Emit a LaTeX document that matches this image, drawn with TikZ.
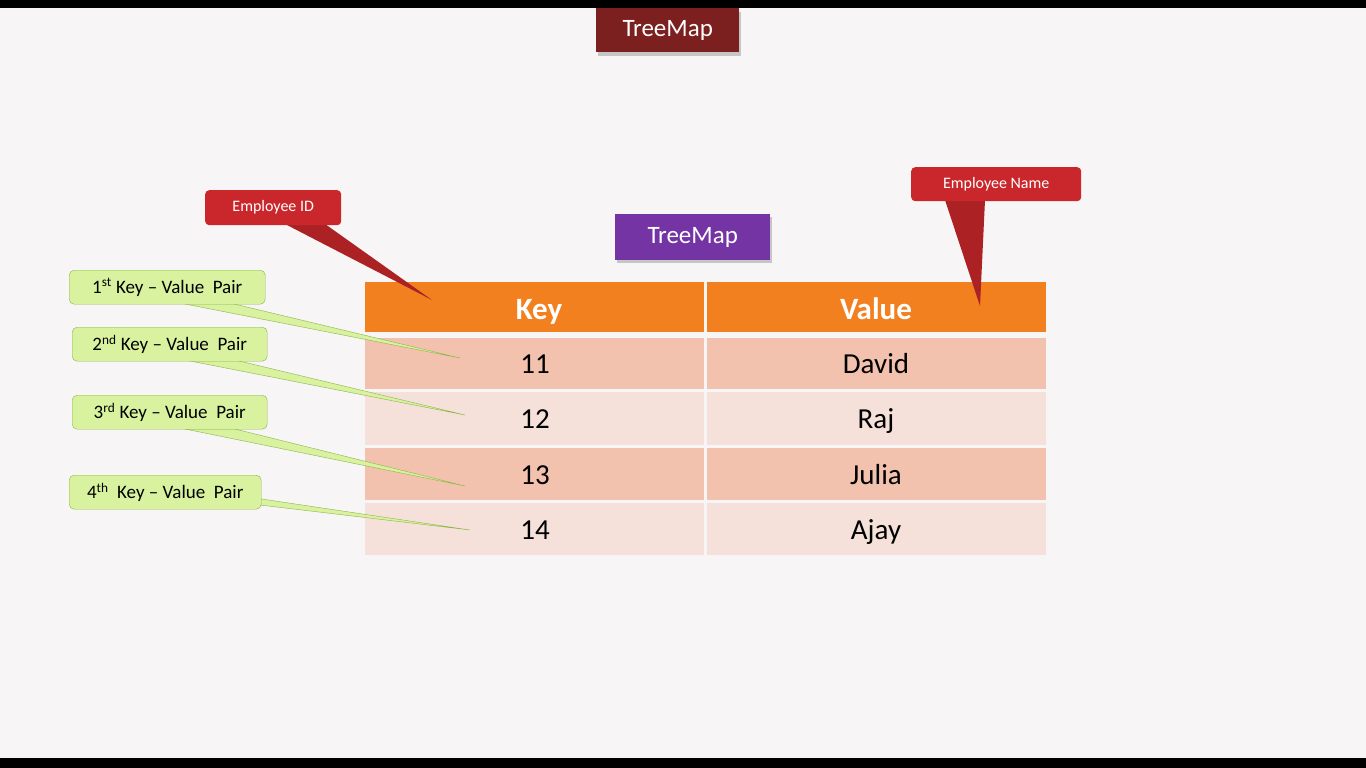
\documentclass[tikz,border=0pt]{standalone}
\usepackage{fontspec}
\setmainfont{Carlito}
\definecolor{bg}{HTML}{F7F5F5}
\definecolor{dred}{HTML}{7C1F1F}
\definecolor{cred}{HTML}{C9272B}
\definecolor{purp}{HTML}{7434A4}
\definecolor{orh}{HTML}{F3801F}
\definecolor{rodd}{HTML}{F3C2AE}
\definecolor{reven}{HTML}{F6E1DA}
\definecolor{gfill}{HTML}{D8F2A0}
\definecolor{gline}{HTML}{8DB348}
\begin{document}
\begin{tikzpicture}[x=1pt,y=-1pt,
  redbox/.style={rounded corners=4pt,fill=cred,text=white,font=\fontsize{16}{18}\selectfont},
  greenbox/.style={rounded corners=5pt,fill=gfill,draw=gline,text=black,font=\fontsize{19}{21}\selectfont},
  gtail/.style={fill=gfill,draw=gline}]
\fill[black] (0,0) rectangle (1366,768);
\fill[bg] (0,8) rectangle (1366,758);
\useasboundingbox (0,0) rectangle (1366,768);
% top box
\fill[gray!45] (598,12) rectangle (741,56);
\node[fill=dred,text=white,minimum width=143pt,minimum height=44pt,inner sep=0pt,anchor=north west,font=\fontsize{25}{28}\selectfont] (top) at (596,8) {TreeMap};
% purple
\fill[gray!45] (617,217) rectangle (772,263);
\node[fill=purp,text=white,minimum width=155pt,minimum height=46pt,inner sep=0pt,anchor=north west,font=\fontsize{25}{28}\selectfont] (tm) at (615,214) {TreeMap};
% table
\tikzset{hdr/.style={fill=orh,text=white,font=\bfseries\fontsize{31}{34}\selectfont},
 odd/.style={fill=rodd},even/.style={fill=reven},
 txt/.style={font=\fontsize{29}{32}\selectfont}}
\fill[hdr] (365,282) rectangle (704,332); \fill[hdr] (707,282) rectangle (1046,332);
\node[hdr,fill=none,anchor=base] (k) at (539,319) {Key}; \node[hdr,fill=none,anchor=base] (v) at (876,319) {Value};
\foreach \ya/\yb/\st/\a/\b [count=\i] in {338/389/odd/11/David,392/445/even/12/Raj,448/500/odd/13/Julia,503/555/even/14/Ajay}{
 \fill[\st] (365,\ya) rectangle (704,\yb); \fill[\st] (707,\ya) rectangle (1046,\yb);
 \node[txt,anchor=base] (ka\i) at (535,{(\ya+\yb)/2+10}) {\a};
 \node[txt,anchor=base] (va\i) at (876,{(\ya+\yb)/2+10}) {\b};}
% red callouts
\coordinate (eidtip) at (432,300);
\coordinate (entip) at (980,306);
\fill[cred!85!black] (285,224) -- (eidtip) -- (325,224) -- cycle;
\fill[cred!85!black] (945,200) -- (entip) -- (985,200) -- cycle;
\node[redbox,minimum width=136pt,minimum height=35pt,anchor=north west,inner sep=0pt] (eid) at (205,190) {Employee ID};
\node[redbox,minimum width=170pt,minimum height=34pt,anchor=north west,inner sep=0pt] (en) at (911,167) {Employee Name};
% green callouts
\foreach \x/\y/\w/\tx/\ty/\bx/\by/\cx/\cy/\lbl [count=\i] in {
 69/270/196/460/358/180/303/230/303/{1\textsuperscript{st} Key -- Value\ \ Pair},
 72/327/195/465/415/185/360/235/360/{2\textsuperscript{nd} Key -- Value\ \ Pair},
 72/395/195/465/486/185/429/235/429/{3\textsuperscript{rd} Key -- Value\ \ Pair},
 69/475/192/470/530/255/498/260/505/{4\textsuperscript{th}\ \ Key -- Value\ \ Pair}}{
 \coordinate (gt\i) at (\tx,\ty);
 \filldraw[gtail] (\bx,\by) -- (gt\i) -- (\cx,\cy) -- cycle;
 \node[greenbox,minimum width=\w pt,minimum height=34pt,anchor=north west,inner sep=0pt] (g\i) at (\x,\y) {\lbl};
}
\end{tikzpicture}
\end{document}
